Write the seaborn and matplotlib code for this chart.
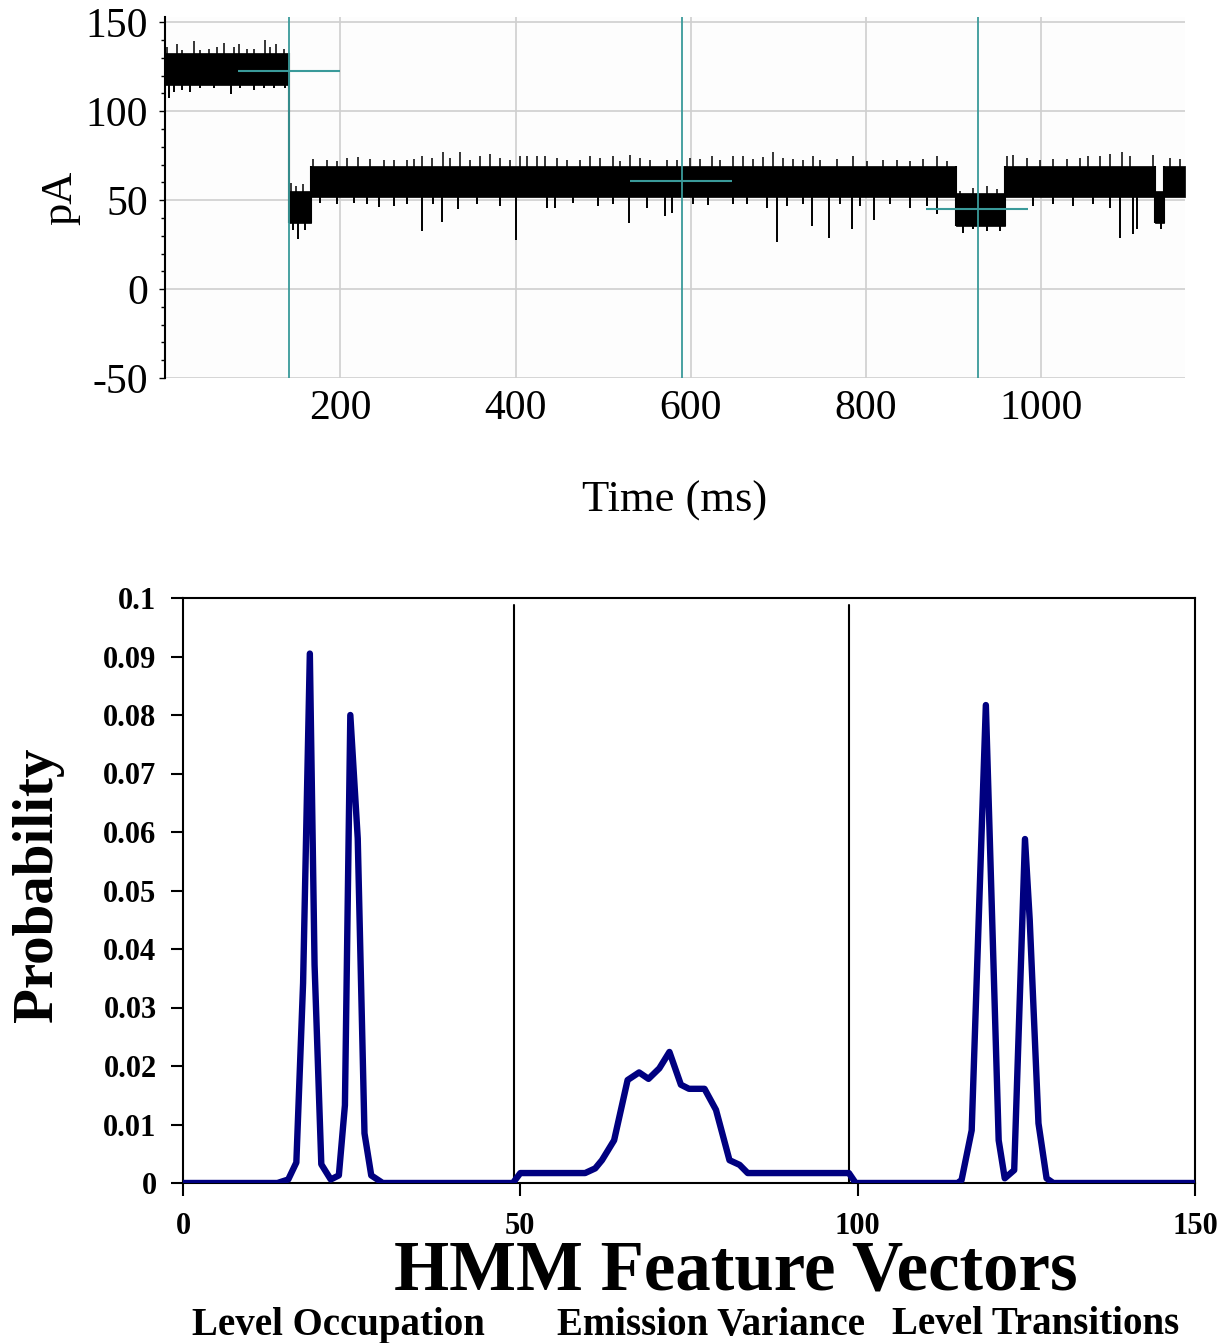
import numpy as np
import pandas as pd
import matplotlib
matplotlib.use("Agg")
import matplotlib.pyplot as plt
import seaborn as sns

# ---------------- data: top panel (current trace) ----------------
seg_start = [0.0, 141.8, 166.6, 902.6, 958.5, 1130.0, 1139.5]
seg_end   = [141.8, 166.6, 902.6, 958.5, 1130.0, 1139.5, 1164.0]
seg_lo    = [115.0, 37.0, 52.0, 35.5, 52.0, 37.0, 52.0]
seg_hi    = [133.0, 55.0, 69.0, 54.0, 69.0, 55.0, 69.0]

# upward excursions (time ms, peak pA)
up_t = [2.3, 13.7, 19.4, 32.7, 40.3, 49.8, 59.3, 67.7, 78.4, 84.1, 93.6, 101.2,
        113.7, 120.2, 127.0, 135.4,
        143.7, 150.0, 158.0,
        169.0, 184.8, 196.2, 207.6, 220.0, 234.3, 249.5, 260.9, 276.0, 283.7,
        293.1, 304.5, 316.7, 325.4, 336.8, 348.2, 359.7, 371.1, 382.5, 393.9,
        405.3, 412.9, 424.3, 433.8, 447.1, 458.5, 473.7, 485.1, 496.5, 511.7,
        519.4, 530.8, 542.2, 553.6, 572.6, 584.0, 599.2, 610.6, 623.9, 633.4,
        648.6, 660.0, 671.4, 682.8, 694.3, 705.7, 717.1, 728.5, 739.9,
        747.5, 766.5, 785.5, 800.8, 819.8, 835.0, 850.2, 865.4, 881.4, 892.0,
        907.2, 922.4, 937.6, 949.0,
        960.4, 968.0, 983.3, 998.5, 1013.7, 1028.9, 1044.1, 1053.6, 1066.9,
        1078.3, 1091.6, 1101.1, 1127.7, 1146.8, 1158.2]
up_v = [136.1, 138.0, 134.3, 139.5, 134.6, 135.2, 136.1, 138.4, 136.1, 137.6,
        135.2, 135.2, 140.2, 136.1, 138.0, 135.2,
        59.8, 58.0, 59.0,
        73.0, 72.8, 71.9, 73.7, 74.3, 73.2, 72.4, 72.8, 72.8, 73.2,
        74.7, 73.7, 76.9, 73.7, 76.9, 72.8, 74.7, 76.2, 73.7, 72.8,
        74.7, 74.7, 74.7, 74.7, 73.7, 72.8, 72.8, 74.7, 73.7, 74.7,
        71.9, 75.6, 73.7, 72.8, 72.8, 72.8, 73.7, 73.2, 74.7, 72.8,
        74.7, 75.0, 73.2, 74.3, 76.9, 73.7, 73.2, 72.8, 74.7,
        72.8, 73.2, 74.7, 71.9, 72.4, 72.8, 71.9, 73.2, 74.7, 71.9,
        55.1, 57.0, 57.9, 56.0,
        74.7, 75.6, 73.7, 72.8, 73.2, 73.2, 73.7, 74.7, 74.7,
        76.2, 76.9, 74.7, 75.6, 73.7, 73.2]

# downward excursions (time ms, lowest pA)
dn_t = [5.0, 9.9, 19.4, 28.9, 40.3, 55.5, 75.7, 86.0, 101.2, 112.6, 124.0, 137.3,
        146.0, 151.7, 160.0,
        177.2, 196.2, 215.2, 230.5, 244.5, 260.9, 276.1,
        293.0, 306.4, 316.0, 334.9, 355.9, 382.5, 400.8, 435.7, 445.2, 466.1,
        494.6, 511.7, 529.7, 549.8, 571.0, 578.3, 603.0, 620.1, 648.6, 663.9,
        686.6, 698.7, 709.5, 728.5, 738.5,
        757.8, 770.3, 784.4, 793.1, 809.0, 827.4, 850.2, 869.2, 881.0,
        911.0, 922.4, 937.6, 952.8,
        990.9, 1013.7, 1036.5, 1059.3, 1078.3, 1089.7, 1104.9, 1108.7, 1137.0]
dn_v = [107.3, 111.0, 111.9, 111.0, 112.9, 112.9, 109.7, 112.9, 111.9, 112.9,
        112.9, 112.9,
        33.0, 28.1, 33.0,
        48.6, 47.7, 48.2, 47.7, 46.0, 46.7, 47.7,
        32.7, 47.7, 37.8, 44.9, 47.7, 46.7, 27.7, 45.8, 45.8, 48.6,
        46.7, 47.7, 37.0, 45.8, 41.0, 43.0, 47.7, 47.1, 47.7, 47.7,
        45.8, 26.2, 46.7, 47.7, 35.5,
        29.0, 47.7, 33.7, 46.7, 39.0, 47.7, 45.8, 46.7, 42.0,
        31.8, 33.7, 32.8, 32.8,
        46.7, 47.7, 46.7, 47.7, 45.8, 29.0, 30.9, 34.0, 33.7]

fit_vline_t = [141.8, 589.8, 927.4]
fit_h_start = [83.0, 530.8, 868.4]
fit_h_end   = [200.0, 647.5, 985.0]
fit_h_level = [122.5, 60.7, 45.0]

top_xticks = [200, 400, 600, 800, 1000]
top_yticks = [-50, 0, 50, 100, 150]

# ---------------- data: bottom panel (HMM feature vector) ----------------
hmm_x = [0, 14.0, 15.6, 16.8, 17.8, 18.8, 19.5, 20.5, 21.9, 23.1, 24.0, 24.8,
         25.9, 26.9, 27.9, 29.6, 48.9, 50.0, 59.6, 61.1, 62.1, 63.9, 65.9,
         67.6, 69.0, 70.6, 72.1, 73.8, 75.0, 77.3, 79.0, 81.0, 82.5, 83.7,
         98.7, 99.7, 114.8, 115.4, 116.9, 119.0, 120.9, 121.8, 123.2, 124.8,
         125.5, 126.8, 128.0, 129.0, 150]
hmm_p = [0, 0, 0.0006, 0.0035, 0.0342, 0.0905, 0.0373, 0.0032, 0.0006, 0.0013,
         0.0133, 0.0800, 0.0589, 0.0085, 0.0013, 0, 0, 0.0017, 0.0017, 0.0025,
         0.0039, 0.0073, 0.0176, 0.0189, 0.0178, 0.0196, 0.0224, 0.0168,
         0.0161, 0.0161, 0.0125, 0.0039, 0.0031, 0.0017, 0.0017, 0, 0, 0.0005,
         0.0090, 0.0817, 0.0073, 0.0008, 0.0022, 0.0588, 0.0450, 0.0102,
         0.0008, 0, 0]
section_bounds = [49.0, 98.7]
section_names = ["Level Occupation", "Emission Variance", "Level Transitions"]
section_x = [338, 711, 1036]

bottom_xticks = [0, 50, 100, 150]
bottom_yticks = [0, 0.01, 0.02, 0.03, 0.04, 0.05, 0.06, 0.07, 0.08, 0.09, 0.1]
bottom_ylabels = ["0", "0.01", "0.02", "0.03", "0.04", "0.05", "0.06",
                  "0.07", "0.08", "0.09", "0.1"]

# ---------------- style ----------------
sns.set_theme(style="white")
plt.rcParams["font.family"] = ["Liberation Serif", "DejaVu Serif"]
plt.rcParams["text.color"] = "black"
plt.rcParams["axes.labelcolor"] = "black"
plt.rcParams["xtick.color"] = "black"
plt.rcParams["ytick.color"] = "black"

W, H = 1226, 1343
fig = plt.figure(figsize=(W / 100, H / 100), dpi=100)

# ---------------- top panel ----------------
ax1 = fig.add_axes([165 / W, 1 - 378 / H, 1020 / W, 361 / H])
ax1.set_facecolor("#fdfdfd")
ax1.set_xlim(0, 1164)
ax1.set_ylim(-50, 153)
for x in top_xticks:
    ax1.axvline(x, color="#cfcfcf", lw=1.2, zorder=0)
for y in top_yticks:
    ax1.axhline(y, color="#cfcfcf", lw=1.2, zorder=0)

for s, e, lo, hi in zip(seg_start, seg_end, seg_lo, seg_hi):
    ax1.fill_between([s, e], [lo, lo], [hi, hi], color="black", lw=0.5,
                     edgecolor="black", zorder=2)
for i in range(len(seg_start) - 1):
    b = seg_end[i]
    lo = min(seg_lo[i], seg_lo[i + 1])
    hi = max(seg_hi[i], seg_hi[i + 1])
    ax1.vlines(b, lo, hi, color="black", lw=1.5, zorder=2)


def band_mid(times):
    idx = np.clip(np.searchsorted(np.array(seg_end), np.asarray(times)),
                  0, len(seg_end) - 1)
    return [(seg_lo[k] + seg_hi[k]) / 2 for k in idx]


ax1.vlines(up_t, band_mid(up_t), up_v, color="black", lw=1.1, zorder=2)
ax1.vlines(dn_t, band_mid(dn_t), dn_v, color="black", lw=1.4, zorder=2)

for t in fit_vline_t:
    ax1.axvline(t, color="#3a9a9a", lw=1.3, zorder=3)
for s, e, l in zip(fit_h_start, fit_h_end, fit_h_level):
    ax1.hlines(l, s, e, color="#3a9a9a", lw=1.5, zorder=3)

ax1.set_xticks(top_xticks)
ax1.set_xticklabels([str(v) for v in top_xticks], fontsize=30)
ax1.set_yticks(top_yticks)
ax1.set_yticklabels([str(v) for v in top_yticks], fontsize=30)
ax1.set_yticks(np.arange(-50, 151, 10), minor=True)
ax1.tick_params(axis="x", length=0, pad=8)
ax1.tick_params(axis="y", which="major", direction="out", length=4, width=1,
                pad=8, left=True)
ax1.tick_params(axis="y", which="minor", direction="out", length=3, width=1,
                left=True)
for side in ["top", "right", "bottom"]:
    ax1.spines[side].set_visible(False)
ax1.spines["left"].set_color("black")
ax1.spines["left"].set_linewidth(1.5)
ax1.set_ylabel("pA", fontsize=32, labelpad=4)
ax1.set_xlabel("Time (ms)", fontsize=32, labelpad=38)

# ---------------- bottom panel ----------------
ax2 = fig.add_axes([183 / W, 1 - 1183 / H, 1012 / W, 585 / H])
ax2.set_facecolor("white")
df = pd.DataFrame({"x": hmm_x, "p": hmm_p})
sns.lineplot(data=df, x="x", y="p", ax=ax2, color="#000080", linewidth=4.6,
             zorder=3, estimator=None, sort=False)
for b in section_bounds:
    ax2.axvline(b, ymin=0, ymax=0.988, color="black", lw=1.5, zorder=2)
ax2.set_xlim(0, 150)
ax2.set_ylim(0, 0.1)
ax2.set_xticks(bottom_xticks)
ax2.set_xticklabels([str(v) for v in bottom_xticks], fontsize=22,
                    fontweight="bold")
ax2.set_yticks(bottom_yticks)
ax2.set_yticklabels(bottom_ylabels, fontsize=22, fontweight="bold")
ax2.tick_params(axis="both", direction="out", length=9, width=1.5,
                bottom=True, left=True)
ax2.tick_params(axis="x", pad=12)
ax2.tick_params(axis="y", pad=10)
for side in ["top", "right", "bottom", "left"]:
    ax2.spines[side].set_color("black")
    ax2.spines[side].set_linewidth(1.5)
ax2.set_xlabel("")
ax2.set_ylabel("Probability", fontsize=41, fontweight="bold")
ax2.yaxis.set_label_coords(-0.118, 0.51)

fig.text(736 / W, 1 - 1272 / H, "HMM Feature Vectors", fontsize=51,
         fontweight="bold", ha="center", va="center")
for name, xc in zip(section_names, section_x):
    fig.text(xc / W, 1 - 1325 / H, name, fontsize=28, fontweight="bold",
             ha="center", va="center")

fig.savefig("out.png", dpi=100)
